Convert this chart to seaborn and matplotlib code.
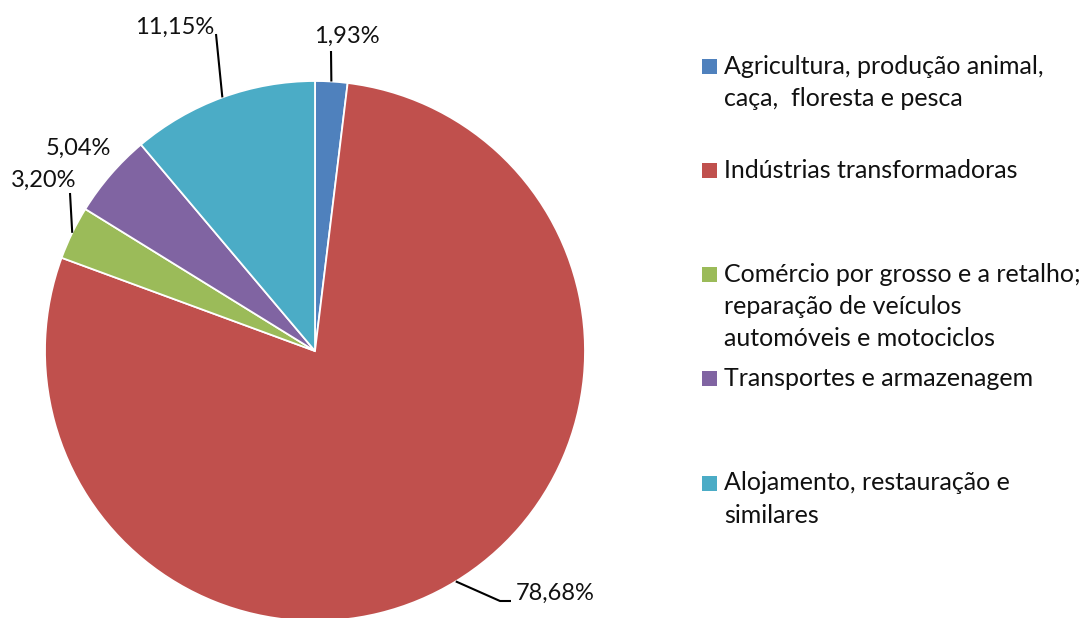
import numpy as np
import matplotlib
matplotlib.use("Agg")
import matplotlib.pyplot as plt
import seaborn as sns

# data
categories = [
    "Agricultura, produção animal,\ncaça,  floresta e pesca",
    "Indústrias transformadoras",
    "Comércio por grosso e a retalho;\nreparação de veículos\nautomóveis e motociclos",
    "Transportes e armazenagem",
    "Alojamento, restauração e\nsimilares",
]
shares = [1.93, 78.68, 3.20, 5.04, 11.15]
share_labels = ["1,93%", "78,68%", "3,20%", "5,04%", "11,15%"]
colors = ["#4F81BD", "#C0504D", "#9BBB59", "#8064A2", "#4BACC6"]

sns.set_theme(style="white")
plt.rcParams["font.family"] = ["Lato", "DejaVu Sans"]

W, H = 1080, 618
fig = plt.figure(figsize=(W / 100, H / 100), dpi=100)
ax = fig.add_axes([0, 0, 1, 1])

cx, cy, r = 315, 351, 270  # pie centre / radius in pixels (top-left origin)

wedges, _ = ax.pie(
    shares, colors=colors, startangle=90, counterclock=False,
    radius=r, center=(cx, H - cy),
    wedgeprops=dict(edgecolor="white", linewidth=1.3),
)
ax.set_xlim(0, W)
ax.set_ylim(0, H)
ax.set_aspect("auto")
ax.axis("off")

def px(x, y):
    return x, H - y

# label placement: text centre and leader-line path (after the wedge edge)
label_pos = [(347, 36), (555, 593), (44, 180), (78, 148), (175, 27)]
leaders = [
    [(331, 51)],
    [(500, 601), (511, 601)],
    [(70, 193)],
    None,
    [(216, 34)],
]
label_fs = 17
for w, lab, pos, lead in zip(wedges, share_labels, label_pos, leaders):
    ang = np.deg2rad((w.theta1 + w.theta2) / 2)
    ex, ey = cx + r * np.cos(ang), cy - r * np.sin(ang)
    if lead is not None:
        pts = [(ex, ey)] + lead
        xs = [p[0] for p in pts]
        ys = [H - p[1] for p in pts]
        ax.plot(xs, ys, color="black", lw=1.5, solid_capstyle="butt")
    ax.text(*px(*pos), lab, ha="center", va="center", fontsize=label_fs, color="#111111")

# legend drawn by hand to match spacing
legend_fs = 18
marker_y = [66, 170, 274, 378, 483]
line_gap = 32.5
for cat, col, my in zip(categories, colors, marker_y):
    ax.add_patch(plt.Rectangle(px(702, my + 7.5), 15, 15, facecolor=col, edgecolor="none"))
    for i, line in enumerate(cat.split("\n")):
        ax.text(*px(724, my + i * line_gap), line, ha="left", va="center",
                fontsize=legend_fs, color="#111111")

fig.savefig("out.png", dpi=100, facecolor="white")
